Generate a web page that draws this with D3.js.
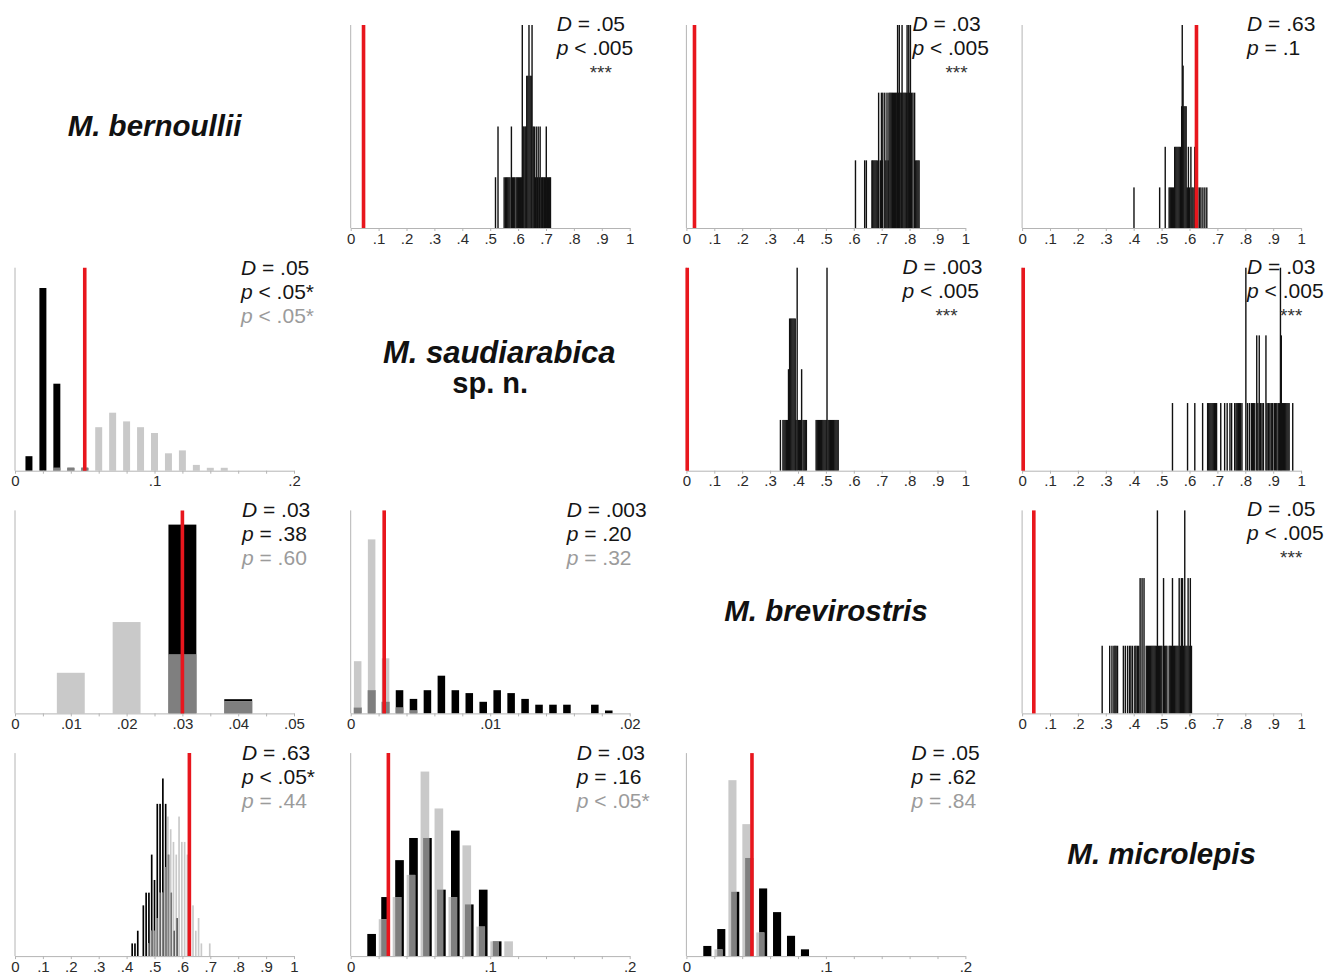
<!DOCTYPE html>
<html lang="en">
<head>
<meta charset="UTF-8">
<title>Niche identity and background tests</title>
<style>
  body { margin: 0; background: #fff; }
  text { font-family: "Liberation Sans", Arial, sans-serif; }
</style>
</head>
<body>
<svg width="1336" height="976"></svg>
<script src="https://d3js.org/d3.v7.min.js"></script>
<script>

// species on the diagonal
var species = ["M. bernoullii", "M. saudiarabica", "M. brevirostris", "M. microlepis"];

// ---- upper triangle: null distributions of D, [value, count] ----
var bernSaudNull = [[.519,1],[.528,2],[.550,1],[.555,1],[.559,1],[.563,1],[.567,1],[.571,1],[.576,2],[.580,1],
  [.584,1],[.588,1],[.593,1],[.597,1],[.601,1],[.605,1],[.609,1],[.613,1],[.615,4],[.618,2],[.621,2],[.625,2],
  [.628,2],[.631,3],[.635,3],[.639,4],[.643,3],[.647,3],[.650,4],[.654,2],[.658,2],[.662,1],[.665,2],[.669,1],
  [.672,2],[.676,1],[.679,2],[.683,1],[.687,1],[.690,1],[.694,1],[.698,1],[.701,2],[.705,1],[.709,1],[.713,1],[.716,1]];

var bernBrevNull = [[.606,1],[.639,1],[.645,1],[.665,1],[.668,1],[.672,1],[.676,1],[.680,1],[.684,1],[.689,2],
  [.695,1],[.699,2],[.702,1],[.704,2],[.711,2],[.715,1],[.719,2],[.723,1],[.726,2],[.730,2],[.734,2],[.738,2],
  [.742,2],[.746,2],[.750,2],[.754,2],[.757,3],[.760,2],[.763,3],[.766,2],[.770,2],[.773,3],[.776,2],[.780,2],
  [.784,2],[.788,2],[.791,3],[.794,2],[.797,3],[.800,2],[.803,3],[.807,2],[.812,2],[.818,2],[.822,1],[.826,1],
  [.830,1],[.834,1]];

var bernMicroNull = [[.401,1],[.493,1],[.513,2],[.527,1],[.531,1],[.535,1],[.539,1],[.543,1],[.547,2],[.551,2],
  [.555,2],[.559,2],[.563,2],[.567,2],[.572,3],[.574,5],[.577,4],[.580,3],[.584,3],[.588,3],[.592,1],[.596,2],
  [.600,1],[.605,2],[.609,1],[.613,1],[.619,2],[.623,1],[.630,1],[.636,1],[.641,1],[.648,1],[.655,1],[.662,1]];

var saudBrevNull = [[.337,1],[.346,1],[.350,1],[.354,1],[.358,1],[.362,1],[.366,2],[.370,3],[.374,3],[.378,3],
  [.382,3],[.386,3],[.390,3],[.393,1],[.397,4],[.401,1],[.405,1],[.409,1],[.413,2],[.418,1],[.422,1],[.426,1],
  [.430,1],[.465,1],[.469,1],[.473,1],[.477,1],[.481,1],[.485,1],[.489,1],[.493,1],[.497,1],[.501,1],[.504,4],
  [.508,1],[.512,1],[.516,1],[.520,1],[.524,1],[.528,1],[.532,1],[.536,1],[.540,1],[.544,1]];

var saudMicroNull = [[.539,1],[.593,1],[.619,1],[.647,1],[.665,1],[.669,1],[.673,1],[.677,1],[.681,1],[.685,1],
  [.689,1],[.693,1],[.697,1],[.712,1],[.726,1],[.735,1],[.745,1],[.751,1],[.762,1],[.767,1],[.771,1],[.775,1],
  [.779,1],[.783,1],[.788,1],[.802,3],[.808,1],[.815,1],[.822,1],[.826,1],[.830,1],[.834,1],[.841,2],[.845,1],
  [.850,2],[.855,1],[.860,1],[.865,1],[.874,2],[.878,1],[.883,1],[.888,1],[.893,1],[.898,1],[.904,1],[.909,1],
  [.913,1],[.918,1],[.922,1],[.926,3],[.929,2],[.933,1],[.937,1],[.941,1],[.945,1],[.949,1],[.953,1],[.957,1],[.970,1]];

var brevMicroNull = [[.287,1],[.314,1],[.322,1],[.329,1],[.333,1],[.337,1],[.342,1],[.363,1],[.370,1],[.378,1],
  [.385,1],[.390,1],[.396,1],[.404,1],[.408,1],[.413,1],[.418,1],[.423,2],[.430,2],[.437,2],[.445,1],[.449,1],
  [.453,1],[.457,1],[.461,1],[.465,1],[.469,1],[.473,1],[.477,1],[.481,1],[.485,3],[.489,1],[.493,1],[.497,1],
  [.501,1],[.507,2],[.511,1],[.515,1],[.519,1],[.527,1],[.531,1],[.535,1],[.539,2],[.543,1],[.547,1],[.551,1],
  [.555,1],[.559,1],[.563,2],[.567,1],[.571,2],[.575,2],[.579,1],[.583,3],[.587,1],[.591,1],[.595,2],[.599,1],
  [.603,2],[.607,1]];

var upperCells = [[0,1],[0,2],[0,3],[1,2],[1,3],[2,3]];   // row, col
var upperNull = [bernSaudNull, bernBrevNull, bernMicroNull, saudBrevNull, saudMicroNull, brevMicroNull];
var upperObs = [0.046, 0.029, 0.625, 0.003, 0.004, 0.042];
var upperD = [".05", ".03", ".63", ".003", ".03", ".05"];
var upperP = ["< .005", "< .005", "= .1", "< .005", "< .005", "< .005"];
var upperStars = ["***", "***", "", "***", "***", "***"];

// ---- lower triangle: two null histograms (black / grey), bin centres + counts ----
var saudBernBins = [.01,.02,.03,.04,.05,.06,.07,.08,.09,.10,.11,.12,.13,.14,.15];
var saudBernBlack = [5,63,30,1,1,0,0,0,0,0,0,0,0,0,0];
var saudBernGrey = [0,0,1,1,1,15,20,17,15,13,6,7,2,1,1];

var brevBernBins = [.01,.02,.03,.04];
var brevBernBlack = [0,0,93,7];
var brevBernGrey = [20,45,29,6];

var brevSaudBins = [.0005,.0015,.0025,.0035,.0045,.0055,.0065,.0075,.0085,.0095,
  .0105,.0115,.0125,.0135,.0145,.0155,.0165,.0175,.0185];
var brevSaudBlack = [2,8,4,8,5,8,13,8,7,4,8,7,5,3,3,3,0,3,1];
var brevSaudGrey = [18,60,19,2,1,0,0,0,0,0,0,0,0,0,0,0,0,0,0];

var microBernBins = [.42,.43,.44,.45,.46,.47,.48,.49,.50,.51,.52,.53,.54,.55,.56,.57,.58,.59,.60,
  .61,.62,.63,.64,.65,.66,.67,.68,.69,.70];
var microBernBlack = [1,1,2,0,4,5,5,8,6,12,12,14,12,8,5,2,3,0,0,0,0,0,0,0,0,0,0,0,0];
var microBernGrey = [0,0,0,0,0,0,1,2,2,3,5,5,7,11,10,9,8,11,9,9,8,4,4,2,3,1,0,0,1];

var microSaudBins = [.015,.025,.035,.045,.055,.065,.075,.085,.095,.105,.115];
var microSaudBlack = [3,8,13,16,16,9,17,7,9,2,0];
var microSaudGrey = [0,5,8,11,25,20,8,15,4,2,2];

var microBrevBins = [.015,.025,.035,.045,.055,.065,.075,.085];
var microBrevBlack = [3,8,19,29,20,13,6,2];
var microBrevGrey = [0,2,52,39,7,0,0,0];

var lowerCells = [[1,0],[2,0],[2,1],[3,0],[3,1],[3,2]];
var lowerBins = [saudBernBins, brevBernBins, brevSaudBins, microBernBins, microSaudBins, microBrevBins];
var lowerBlack = [saudBernBlack, brevBernBlack, brevSaudBlack, microBernBlack, microSaudBlack, microBrevBlack];
var lowerGrey = [saudBernGrey, brevBernGrey, brevSaudGrey, microBernGrey, microSaudGrey, microBrevGrey];
var lowerBinWidth = [0.01, 0.01, 0.001, 0.01, 0.01, 0.01];
var lowerXMax = [0.2, 0.05, 0.02, 1, 0.2, 0.2];
var lowerYMax = [70, 100, 70, 16, 27.5, 60];
var lowerObs = [0.05, 0.03, 0.0024, 0.625, 0.027, 0.047];
var lowerD = [".05", ".03", ".003", ".63", ".03", ".05"];
var lowerPBlack = ["< .05*", "= .38", "= .20", "< .05*", "= .16", "= .62"];
var lowerPGrey = ["< .05*", "= .60", "= .32", "= .44", "< .05*", "= .84"];

// ---- x axis ticks / labels ----
var unitTicks = [0,.1,.2,.3,.4,.5,.6,.7,.8,.9,1];
var unitLabels = ["0",".1",".2",".3",".4",".5",".6",".7",".8",".9","1"];
var fifthTicks = [0,.02,.04,.06,.08,.1,.12,.14,.16,.18,.2];
var fifthLabels = ["0","","","","",".1","","","","",".2"];
var twentiethTicks = [0,.005,.01,.015,.02,.025,.03,.035,.04,.045,.05];
var twentiethLabels = ["0","",".01","",".02","",".03","",".04","",".05"];
var fiftiethTicks = [0,.002,.004,.006,.008,.01,.012,.014,.016,.018,.02];
var fiftiethLabels = ["0","","","","",".01","","","","",".02"];

// ---- layout ----
var plotW = 279, plotH = 203;
var colStep = 335.7, rowStep = 242.7, left0 = 15, top0 = 25;
var upperLabelOff = [206, 226, 225, 216, 225, 225];
var lowerLabelOff = [226, 227, 216, 227, 226, 225];
var red = "#e8161d", axisGrey = "#b4b4b4";

var svg = d3.select("svg");

function cellG(row, col) {
  return svg.append("g")
    .attr("transform", "translate(" + (left0 + col * colStep) + "," + (top0 + row * rowStep) + ")");
}

function ticksFor(max) {
  if (max === 1) return [unitTicks, unitLabels];
  if (max === 0.2) return [fifthTicks, fifthLabels];
  if (max === 0.05) return [twentiethTicks, twentiethLabels];
  return [fiftiethTicks, fiftiethLabels];
}

function drawAxes(g, x) {
  var t = ticksFor(x.domain()[1]);
  var ax = g.append("g")
    .attr("transform", "translate(0," + plotH + ")")
    .call(d3.axisBottom(x).tickValues(t[0])
      .tickFormat(function(d, i) { return t[1][i]; })
      .tickSize(3).tickSizeOuter(0).tickPadding(2));
  ax.attr("font-size", 15).attr("font-family", "'Liberation Sans', Arial, sans-serif");
  ax.select(".domain").attr("stroke", axisGrey);
  ax.selectAll(".tick line").attr("stroke", axisGrey);
  ax.selectAll(".tick text").attr("fill", "#2a2a2a").style("font-size", "15px");

  g.append("line")
    .attr("x1", 0).attr("x2", 0).attr("y1", 0).attr("y2", plotH)
    .attr("stroke", axisGrey);
}

function drawRed(g, x, v) {
  g.append("line")
    .attr("x1", x(v)).attr("x2", x(v)).attr("y1", 0).attr("y2", plotH)
    .attr("stroke", red).attr("stroke-width", 3.6);
}

function statLine(g, x, y, letter, rest, color) {
  var t = g.append("text").attr("x", x).attr("y", y)
    .attr("fill", color).style("font-size", "21px");
  t.append("tspan").style("font-style", "italic").text(letter);
  t.append("tspan").text(" " + rest);
}

// upper panels
upperCells.forEach(function(rc, i) {
  var g = cellG(rc[0], rc[1]);
  var data = upperNull[i];
  var x = d3.scaleLinear().domain([0, 1]).range([0, plotW]);
  var y = d3.scaleLinear().domain([0, d3.max(data, function(d) { return d[1]; })]).range([plotH, 0]);

  g.selectAll("rect.null").data(data).enter().append("rect")
    .attr("class", "null")
    .attr("x", function(d) { return x(d[0]) - 0.7; })
    .attr("width", 1.4)
    .attr("y", function(d) { return y(d[1]); })
    .attr("height", function(d) { return y(0) - y(d[1]); })
    .attr("fill", "#111");

  drawAxes(g, x);
  drawRed(g, x, upperObs[i]);

  var lx = upperLabelOff[i];
  statLine(g, lx, 6, "D", "= " + upperD[i], "#151515");
  statLine(g, lx, 30, "p", upperP[i], "#151515");
  if (upperStars[i])
    g.append("text").attr("x", lx + 33).attr("y", 54)
      .attr("fill", "#333").style("font-size", "19px").text(upperStars[i]);
});

// lower panels
var barFrac = [0.5, 0.5, 0.54, 0.6, 0.62, 0.58];
var greyShift = [0, 0, 0, 0.2, 0.18, 0.2];

lowerCells.forEach(function(rc, i) {
  var g = cellG(rc[0], rc[1]);
  var bins = lowerBins[i], black = lowerBlack[i], grey = lowerGrey[i];
  var bw = lowerBinWidth[i];
  var x = d3.scaleLinear().domain([0, lowerXMax[i]]).range([0, plotW]);
  var y = d3.scaleLinear().domain([0, lowerYMax[i]]).range([plotH, 0]);
  var half = barFrac[i] * bw / 2, sh = greyShift[i] * bw;

  var rows = bins.map(function(c, k) { return {c: c, b: black[k], g: grey[k]}; });

  g.selectAll("rect.black").data(rows.filter(function(d) { return d.b > 0; })).enter().append("rect")
    .attr("class", "black")
    .attr("x", function(d) { return x(d.c - half); })
    .attr("width", function(d) { return x(d.c + half) - x(d.c - half); })
    .attr("y", function(d) { return y(d.b); })
    .attr("height", function(d) { return y(0) - y(d.b); })
    .attr("fill", "#000");

  g.selectAll("rect.grey").data(rows.filter(function(d) { return d.g > 0; })).enter().append("rect")
    .attr("class", "grey")
    .attr("x", function(d) { return x(d.c - sh - half); })
    .attr("width", function(d) { return x(d.c - sh + half) - x(d.c - sh - half); })
    .attr("y", function(d) { return y(d.g); })
    .attr("height", function(d) { return y(0) - y(d.g); })
    .attr("fill", "#c9c9c9");

  // where both series overlap the bar shows dark grey
  g.selectAll("rect.both").data(rows.filter(function(d) { return d.b > 0 && d.g > 0; })).enter().append("rect")
    .attr("class", "both")
    .attr("x", function(d) { return x(d.c - half); })
    .attr("width", function(d) { return x(d.c - sh + half) - x(d.c - half); })
    .attr("y", function(d) { return y(Math.min(d.b, d.g)); })
    .attr("height", function(d) { return y(0) - y(Math.min(d.b, d.g)); })
    .attr("fill", "#7f7f7f");

  drawAxes(g, x);
  drawRed(g, x, lowerObs[i]);

  var lx = lowerLabelOff[i];
  statLine(g, lx, 7, "D", "= " + lowerD[i], "#151515");
  statLine(g, lx, 31, "p", lowerPBlack[i], "#151515");
  statLine(g, lx, 55, "p", lowerPGrey[i], "#9b9b9b");
});

// species names on the diagonal
var nameSize = [29.5, 31, 29.5, 29.5];
species.forEach(function(name, i) {
  var g = cellG(i, i);
  g.append("text")
    .attr("x", i === 1 ? plotW / 2 + 9 : plotW / 2).attr("y", i === 1 ? plotH / 2 - 6 : plotH / 2 + 9)
    .attr("text-anchor", "middle")
    .style("font-size", nameSize[i] + "px").style("font-weight", "bold").style("font-style", "italic")
    .attr("fill", "#111")
    .text(name);
  if (i === 1)
    g.append("text")
      .attr("x", plotW / 2).attr("y", plotH / 2 + 24)
      .attr("text-anchor", "middle")
      .style("font-size", "29px").style("font-weight", "bold")
      .attr("fill", "#111")
      .text("sp. n.");
});

</script>
</body>
</html>
